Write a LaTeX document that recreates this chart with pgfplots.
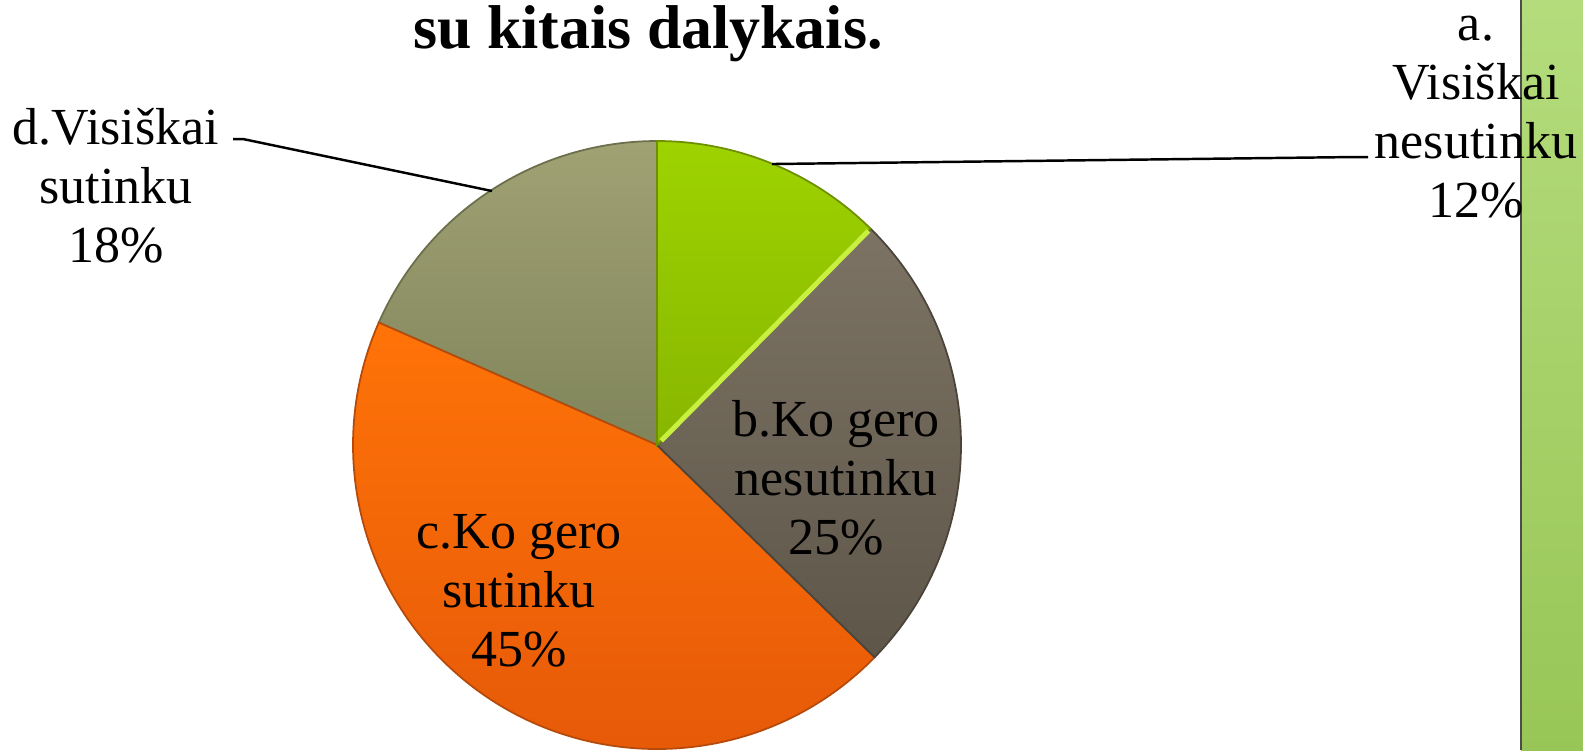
\documentclass[border=0pt]{standalone}
\usepackage{fontspec}
\setmainfont{Liberation Serif}
\usepackage{pgfplots}
\usepackage{pgfplotstable}
\pgfplotsset{compat=1.18}
\definecolor{aTop}{HTML}{9ED300}
\definecolor{aBot}{HTML}{88B600}
\definecolor{aEdge}{HTML}{6E9000}
\definecolor{aHi}{HTML}{C8F040}
\definecolor{bTop}{HTML}{7C7364}
\definecolor{bBot}{HTML}{5E5649}
\definecolor{bEdge}{HTML}{4A443A}
\definecolor{cTop}{HTML}{FF7308}
\definecolor{cBot}{HTML}{E55808}
\definecolor{cEdge}{HTML}{B54A0A}
\definecolor{dTop}{HTML}{A0A274}
\definecolor{dBot}{HTML}{80845A}
\definecolor{dEdge}{HTML}{6C6E4C}
\definecolor{barTop}{HTML}{B4DC7C}
\definecolor{barBot}{HTML}{98C656}

%% shares of the four answers, clockwise from 12 o'clock
\pgfplotstableread{
key val
a 12.4
b 24.9
c 44.3
d 18.4
}\piedata

\begin{document}
\begin{tikzpicture}
\pgfplotstablegetelem{0}{val}\of\piedata \pgfmathsetmacro\eA{90-3.6*\pgfplotsretval}
\pgfplotstablegetelem{1}{val}\of\piedata \pgfmathsetmacro\eB{\eA-3.6*\pgfplotsretval}
\pgfplotstablegetelem{2}{val}\of\piedata \pgfmathsetmacro\eC{\eB-3.6*\pgfplotsretval}
\pgfplotstablegetelem{3}{val}\of\piedata \pgfmathsetmacro\eD{\eC-3.6*\pgfplotsretval}
\def\R{3.04cm}
\begin{axis}[
  scale only axis, width=15.83cm, height=7.5cm,
  xmin=0, xmax=1583, ymin=0, ymax=750,
  hide axis, clip=false,
]
% green side bar
\shadedraw[top color=barTop, bottom color=barBot, draw=none]
  (axis cs:1521,0) rectangle (axis cs:1583,750);
\addplot[draw=black!70, line width=0.8pt] coordinates {(1521,0)(1521,750)};

% slices
\shadedraw[top color=dTop, bottom color=dBot, draw=dEdge, line width=0.5pt]
  (axis cs:657,305) -- ++(\eC:\R) arc[start angle=\eC, end angle=\eD, radius=\R] -- cycle;
\shadedraw[top color=cTop, bottom color=cBot, draw=cEdge, line width=0.5pt]
  (axis cs:657,305) -- ++(\eB:\R) arc[start angle=\eB, end angle=\eC, radius=\R] -- cycle;
\shadedraw[top color=bTop, bottom color=bBot, draw=bEdge, line width=0.5pt]
  (axis cs:657,305) -- ++(\eA:\R) arc[start angle=\eA, end angle=\eB, radius=\R] -- cycle;
\shadedraw[top color=aTop, bottom color=aBot, draw=aEdge, line width=0.5pt]
  (axis cs:657,305) -- ++(90:\R) arc[start angle=90, end angle=\eA, radius=\R] -- cycle;
\draw[aHi, line width=1.4pt] (axis cs:657,305) ++(\eA:0.06cm) -- ++(\eA:2.95cm);

% leader lines
\addplot[black, line width=0.7pt] coordinates {(233,611)(243,611)(492,559)};
\addplot[black, line width=0.7pt] coordinates {(772,586)(1355,593)(1368,593)};

% texts
\node[anchor=base, font=\fontsize{17.6}{20}\selectfont\bfseries]
  at (axis cs:648,702) {su kitais dalykais.};
\tikzset{lbl/.style={align=center, inner sep=0pt,
  font=\fontsize{14.8}{16.8}\selectfont}}
\node[lbl] at (axis cs:1476,633) {a.\\Visiškai\\nesutinku\\12\%};
\node[lbl] at (axis cs:116,564) {d.Visiškai\\sutinku\\18\%};
\node[lbl] at (axis cs:836,272) {b.Ko gero\\nesutinku\\25\%};
\node[lbl] at (axis cs:519,159) {c.Ko gero\\sutinku\\45\%};
\end{axis}
\pgfresetboundingbox
\path (0,0) rectangle (15.83,7.5);
\end{tikzpicture}
\end{document}
